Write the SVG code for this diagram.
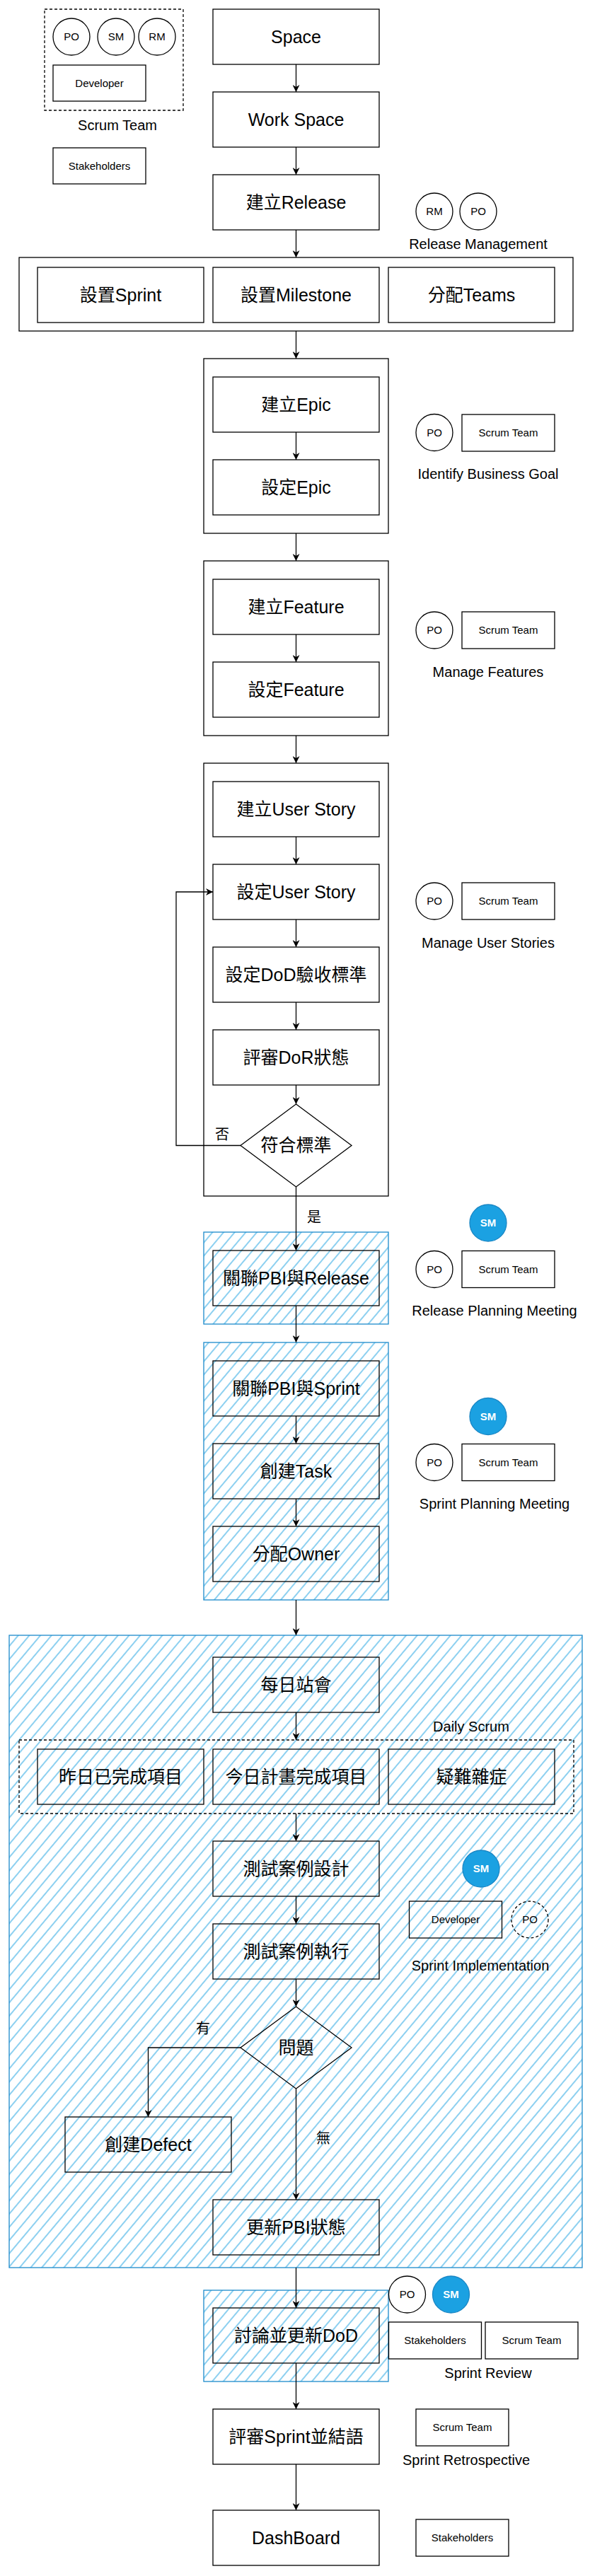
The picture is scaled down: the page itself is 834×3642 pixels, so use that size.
<svg xmlns="http://www.w3.org/2000/svg" width="834" height="3642" viewBox="0 0 834 3642">
<style>
text{font-family:"Liberation Sans","Noto Sans CJK TC",sans-serif;text-anchor:middle;fill:#000}
.t25{font-size:25px}
.t20{font-size:20px}
.t15{font-size:15px}
.sm{font-size:15px;font-weight:bold;fill:#fff}
.box{fill:#fff;stroke:#000;stroke-width:1.3}
.tbox{fill:none;stroke:#000;stroke-width:1.3}
.cont{fill:#fff;stroke:#000;stroke-width:1.3}
.hcont{fill:url(#hatch);stroke:#1C8ACB;stroke-width:1.3}
.dash{fill:none;stroke:#000;stroke-width:1.3;stroke-dasharray:4 3}
.circ{fill:#fff;stroke:#000;stroke-width:1.3}
.tcirc{fill:none;stroke:#000;stroke-width:1.3}
.blue{fill:#1BA1E2;stroke:#1A86C4;stroke-width:1.3}
.edge{fill:none;stroke:#000;stroke-width:1.3;marker-end:url(#arr)}
.line{fill:none;stroke:#000;stroke-width:1.3}
</style>
<defs>
<pattern id="hatch" patternUnits="userSpaceOnUse" width="12" height="12" patternTransform="rotate(-50)">
<rect width="12" height="12" fill="#fff"/>
<line x1="0" y1="6" x2="12" y2="6" stroke="#1BA1E2" stroke-width="1"/>
</pattern>
<marker id="arr" viewBox="0 0 10 10" refX="10" refY="5" markerWidth="10" markerHeight="10" markerUnits="userSpaceOnUse" orient="auto">
<path d="M0,0 L10,5 L0,10 L3,5 z" fill="#000"/>
</marker>
</defs>

<!-- Legend -->
<g id="legend-scrum-team">
<rect class="dash" x="63" y="13" width="196" height="143"/>
<circle class="circ" cx="101" cy="52" r="26"/><text class="t15" x="101" y="57">PO</text>
<circle class="circ" cx="164" cy="52" r="26"/><text class="t15" x="164" y="57">SM</text>
<circle class="circ" cx="222" cy="52" r="26"/><text class="t15" x="222" y="57">RM</text>
<rect class="box" x="75" y="92" width="131" height="51"/><text class="t15" x="140.5" y="123">Developer</text>
<text class="t20" x="166" y="184">Scrum Team</text>
</g>
<g id="legend-stakeholders">
<rect class="box" x="75" y="209" width="131" height="51"/><text class="t15" x="140.5" y="240">Stakeholders</text>
</g>

<!-- Containers -->
<g id="grp-release-settings"><rect class="cont" x="27" y="364" width="783" height="104"/></g>
<g id="grp-epic"><rect class="cont" x="288" y="507" width="261" height="247"/></g>
<g id="grp-feature"><rect class="cont" x="288" y="793" width="261" height="247"/></g>
<g id="grp-userstory"><rect class="cont" x="288" y="1079" width="261" height="612"/></g>
<g id="grp-release-planning"><rect class="hcont" x="288" y="1742" width="261" height="130"/></g>
<g id="grp-sprint-planning"><rect class="hcont" x="288" y="1898" width="261" height="364"/></g>
<g id="grp-sprint-impl"><rect class="hcont" x="13" y="2312" width="810" height="894"/></g>
<g id="grp-sprint-review"><rect class="hcont" x="288" y="3238" width="261" height="129"/></g>

<!-- Main flow nodes -->
<g id="n-space"><rect class="box" x="301" y="13" width="235" height="78"/><text class="t25" x="418.5" y="61">Space</text></g>
<g id="n-workspace"><rect class="box" x="301" y="130" width="235" height="78"/><text class="t25" x="418.5" y="178">Work Space</text></g>
<g id="n-release"><rect class="box" x="301" y="247" width="235" height="78"/><text class="t25" x="418.5" y="295">建立Release</text></g>

<g id="n-set-sprint"><rect class="box" x="53" y="378" width="235" height="78"/><text class="t25" x="170.5" y="426">設置Sprint</text></g>
<g id="n-set-milestone"><rect class="box" x="301" y="378" width="235" height="78"/><text class="t25" x="418.5" y="426">設置Milestone</text></g>
<g id="n-assign-teams"><rect class="box" x="549" y="378" width="235" height="78"/><text class="t25" x="666.5" y="426">分配Teams</text></g>

<g id="n-create-epic"><rect class="box" x="301" y="533" width="235" height="78"/><text class="t25" x="418.5" y="581">建立Epic</text></g>
<g id="n-set-epic"><rect class="box" x="301" y="650" width="235" height="78"/><text class="t25" x="418.5" y="698">設定Epic</text></g>

<g id="n-create-feature"><rect class="box" x="301" y="819" width="235" height="78"/><text class="t25" x="418.5" y="867">建立Feature</text></g>
<g id="n-set-feature"><rect class="box" x="301" y="936" width="235" height="78"/><text class="t25" x="418.5" y="984">設定Feature</text></g>

<g id="n-create-us"><rect class="box" x="301" y="1105" width="235" height="78"/><text class="t25" x="418.5" y="1153">建立User Story</text></g>
<g id="n-set-us"><rect class="box" x="301" y="1222" width="235" height="78"/><text class="t25" x="418.5" y="1270">設定User Story</text></g>
<g id="n-set-dod"><rect class="box" x="301" y="1339" width="235" height="78"/><text class="t25" x="418.5" y="1387">設定DoD驗收標準</text></g>
<g id="n-review-dor"><rect class="box" x="301" y="1456" width="235" height="78"/><text class="t25" x="418.5" y="1504">評審DoR狀態</text></g>
<g id="n-meet-criteria"><polygon class="box" points="418.5,1561 497,1619.5 418.5,1678 340,1619.5"/><text class="t25" x="418.5" y="1628">符合標準</text></g>

<g id="n-pbi-release"><rect class="tbox" x="301" y="1768" width="235" height="78"/><text class="t25" x="418.5" y="1816">關聯PBI與Release</text></g>

<g id="n-pbi-sprint"><rect class="tbox" x="301" y="1924" width="235" height="78"/><text class="t25" x="418.5" y="1972">關聯PBI與Sprint</text></g>
<g id="n-create-task"><rect class="tbox" x="301" y="2041" width="235" height="78"/><text class="t25" x="418.5" y="2089">創建Task</text></g>
<g id="n-assign-owner"><rect class="tbox" x="301" y="2158" width="235" height="78"/><text class="t25" x="418.5" y="2206">分配Owner</text></g>

<g id="n-daily"><rect class="tbox" x="301" y="2343" width="235" height="78"/><text class="t25" x="418.5" y="2391">每日站會</text></g>
<g id="n-daily-scrum"><rect class="dash" x="27" y="2460" width="784" height="104"/><text class="t20" x="666" y="2448">Daily Scrum</text></g>
<g id="n-yesterday"><rect class="tbox" x="53" y="2473" width="235" height="78"/><text class="t25" x="170.5" y="2521">昨日已完成項目</text></g>
<g id="n-today"><rect class="tbox" x="301" y="2473" width="235" height="78"/><text class="t25" x="418.5" y="2521">今日計畫完成項目</text></g>
<g id="n-issues"><rect class="tbox" x="549" y="2473" width="235" height="78"/><text class="t25" x="666.5" y="2521">疑難雜症</text></g>
<g id="n-test-design"><rect class="tbox" x="301" y="2603" width="235" height="78"/><text class="t25" x="418.5" y="2651">測試案例設計</text></g>
<g id="n-test-exec"><rect class="tbox" x="301" y="2720" width="235" height="78"/><text class="t25" x="418.5" y="2768">測試案例執行</text></g>
<g id="n-problem"><polygon class="tbox" points="418.5,2837 497,2895 418.5,2953 340,2895"/><text class="t25" x="418.5" y="2904">問題</text></g>
<g id="n-defect"><rect class="tbox" x="92" y="2993" width="235" height="78"/><text class="t25" x="209.5" y="3041">創建Defect</text></g>
<g id="n-update-pbi"><rect class="tbox" x="301" y="3110" width="235" height="78"/><text class="t25" x="418.5" y="3158">更新PBI狀態</text></g>

<g id="n-update-dod"><rect class="tbox" x="301" y="3263" width="235" height="78"/><text class="t25" x="418.5" y="3311">討論並更新DoD</text></g>
<g id="n-retro"><rect class="box" x="301" y="3406" width="235" height="78"/><text class="t25" x="418.5" y="3454">評審Sprint並結語</text></g>
<g id="n-dashboard"><rect class="box" x="301" y="3549" width="235" height="78"/><text class="t25" x="418.5" y="3597">DashBoard</text></g>

<!-- Side role annotations -->
<g id="a-release-mgmt">
<circle class="circ" cx="614" cy="299" r="26"/><text class="t15" x="614" y="304">RM</text>
<circle class="circ" cx="676" cy="299" r="26"/><text class="t15" x="676" y="304">PO</text>
<text class="t20" x="676" y="352">Release Management</text>
</g>
<g id="a-business-goal">
<circle class="circ" cx="614" cy="611.5" r="26"/><text class="t15" x="614" y="617">PO</text>
<rect class="box" x="653" y="586" width="131" height="52"/><text class="t15" x="718.5" y="617">Scrum Team</text>
<text class="t20" x="690" y="677">Identify Business Goal</text>
</g>
<g id="a-manage-features">
<circle class="circ" cx="614" cy="891" r="26"/><text class="t15" x="614" y="896">PO</text>
<rect class="box" x="653" y="865" width="131" height="52"/><text class="t15" x="718.5" y="896">Scrum Team</text>
<text class="t20" x="690" y="957">Manage Features</text>
</g>
<g id="a-manage-us">
<circle class="circ" cx="614" cy="1274" r="26"/><text class="t15" x="614" y="1279">PO</text>
<rect class="box" x="653" y="1248" width="131" height="52"/><text class="t15" x="718.5" y="1279">Scrum Team</text>
<text class="t20" x="690" y="1340">Manage User Stories</text>
</g>
<g id="a-release-planning">
<circle class="blue" cx="690" cy="1729" r="26"/><text class="sm" x="690" y="1734">SM</text>
<circle class="circ" cx="614" cy="1794.5" r="26"/><text class="t15" x="614" y="1800">PO</text>
<rect class="box" x="653" y="1768.5" width="131" height="52"/><text class="t15" x="718.5" y="1800">Scrum Team</text>
<text class="t20" x="699" y="1860">Release Planning Meeting</text>
</g>
<g id="a-sprint-planning">
<circle class="blue" cx="690" cy="2002.5" r="26"/><text class="sm" x="690" y="2008">SM</text>
<circle class="circ" cx="614" cy="2067.5" r="26"/><text class="t15" x="614" y="2073">PO</text>
<rect class="box" x="653" y="2041.5" width="131" height="52"/><text class="t15" x="718.5" y="2073">Scrum Team</text>
<text class="t20" x="699" y="2133">Sprint Planning Meeting</text>
</g>
<g id="a-sprint-impl">
<circle class="blue" cx="680" cy="2642" r="26"/><text class="sm" x="680" y="2647">SM</text>
<rect class="tbox" x="578.5" y="2688" width="131" height="52"/><text class="t15" x="644" y="2719">Developer</text>
<circle class="tcirc" cx="749" cy="2714" r="26" stroke-dasharray="4 3"/><text class="t15" x="749" y="2719">PO</text>
<text class="t20" x="679" y="2786">Sprint Implementation</text>
</g>
<g id="a-sprint-review">
<circle class="circ" cx="575.5" cy="3244" r="26"/><text class="t15" x="575.5" y="3249">PO</text>
<circle class="blue" cx="637.5" cy="3244" r="26"/><text class="sm" x="637.5" y="3249">SM</text>
<rect class="box" x="549.5" y="3283" width="131" height="52"/><text class="t15" x="615" y="3314">Stakeholders</text>
<rect class="box" x="686" y="3283" width="131" height="52"/><text class="t15" x="751.5" y="3314">Scrum Team</text>
<text class="t20" x="690" y="3362">Sprint Review</text>
</g>
<g id="a-sprint-retro">
<rect class="box" x="588" y="3406" width="131" height="52"/><text class="t15" x="653.5" y="3437">Scrum Team</text>
<text class="t20" x="659" y="3485">Sprint Retrospective</text>
</g>
<g id="a-dashboard">
<rect class="box" x="588" y="3562" width="131" height="52"/><text class="t15" x="653.5" y="3593">Stakeholders</text>
</g>

<!-- Connectors -->
<g id="connectors">
<line class="edge" x1="418.5" y1="91" x2="418.5" y2="130"/>
<line class="edge" x1="418.5" y1="208" x2="418.5" y2="247"/>
<line class="edge" x1="418.5" y1="325" x2="418.5" y2="364"/>
<line class="edge" x1="418.5" y1="468" x2="418.5" y2="507"/>
<line class="edge" x1="418.5" y1="611" x2="418.5" y2="650"/>
<line class="edge" x1="418.5" y1="754" x2="418.5" y2="793"/>
<line class="edge" x1="418.5" y1="897" x2="418.5" y2="936"/>
<line class="edge" x1="418.5" y1="1040" x2="418.5" y2="1079"/>
<line class="edge" x1="418.5" y1="1183" x2="418.5" y2="1222"/>
<line class="edge" x1="418.5" y1="1300" x2="418.5" y2="1339"/>
<line class="edge" x1="418.5" y1="1417" x2="418.5" y2="1456"/>
<line class="edge" x1="418.5" y1="1534" x2="418.5" y2="1561"/>
<polyline class="edge" points="340,1619.5 249,1619.5 249,1261 301,1261"/>
<text class="t20" x="314" y="1611">否</text>
<line class="edge" x1="418.5" y1="1678" x2="418.5" y2="1768"/>
<text class="t20" x="444" y="1728">是</text>
<line class="edge" x1="418.5" y1="1846" x2="418.5" y2="1898"/>
<line class="edge" x1="418.5" y1="2002" x2="418.5" y2="2041"/>
<line class="edge" x1="418.5" y1="2119" x2="418.5" y2="2158"/>
<line class="edge" x1="418.5" y1="2262" x2="418.5" y2="2312"/>
<line class="edge" x1="418.5" y1="2421" x2="418.5" y2="2460"/>
<line class="edge" x1="418.5" y1="2564" x2="418.5" y2="2603"/>
<line class="edge" x1="418.5" y1="2681" x2="418.5" y2="2720"/>
<line class="edge" x1="418.5" y1="2798" x2="418.5" y2="2837"/>
<polyline class="edge" points="340,2895 209.5,2895 209.5,2993"/>
<text class="t20" x="287" y="2875">有</text>
<line class="edge" x1="418.5" y1="2953" x2="418.5" y2="3110"/>
<text class="t20" x="457" y="3030">無</text>
<line class="edge" x1="418.5" y1="3206" x2="418.5" y2="3263"/>
<line class="edge" x1="418.5" y1="3341" x2="418.5" y2="3406"/>
<line class="edge" x1="418.5" y1="3484" x2="418.5" y2="3549"/>
</g>
</svg>
